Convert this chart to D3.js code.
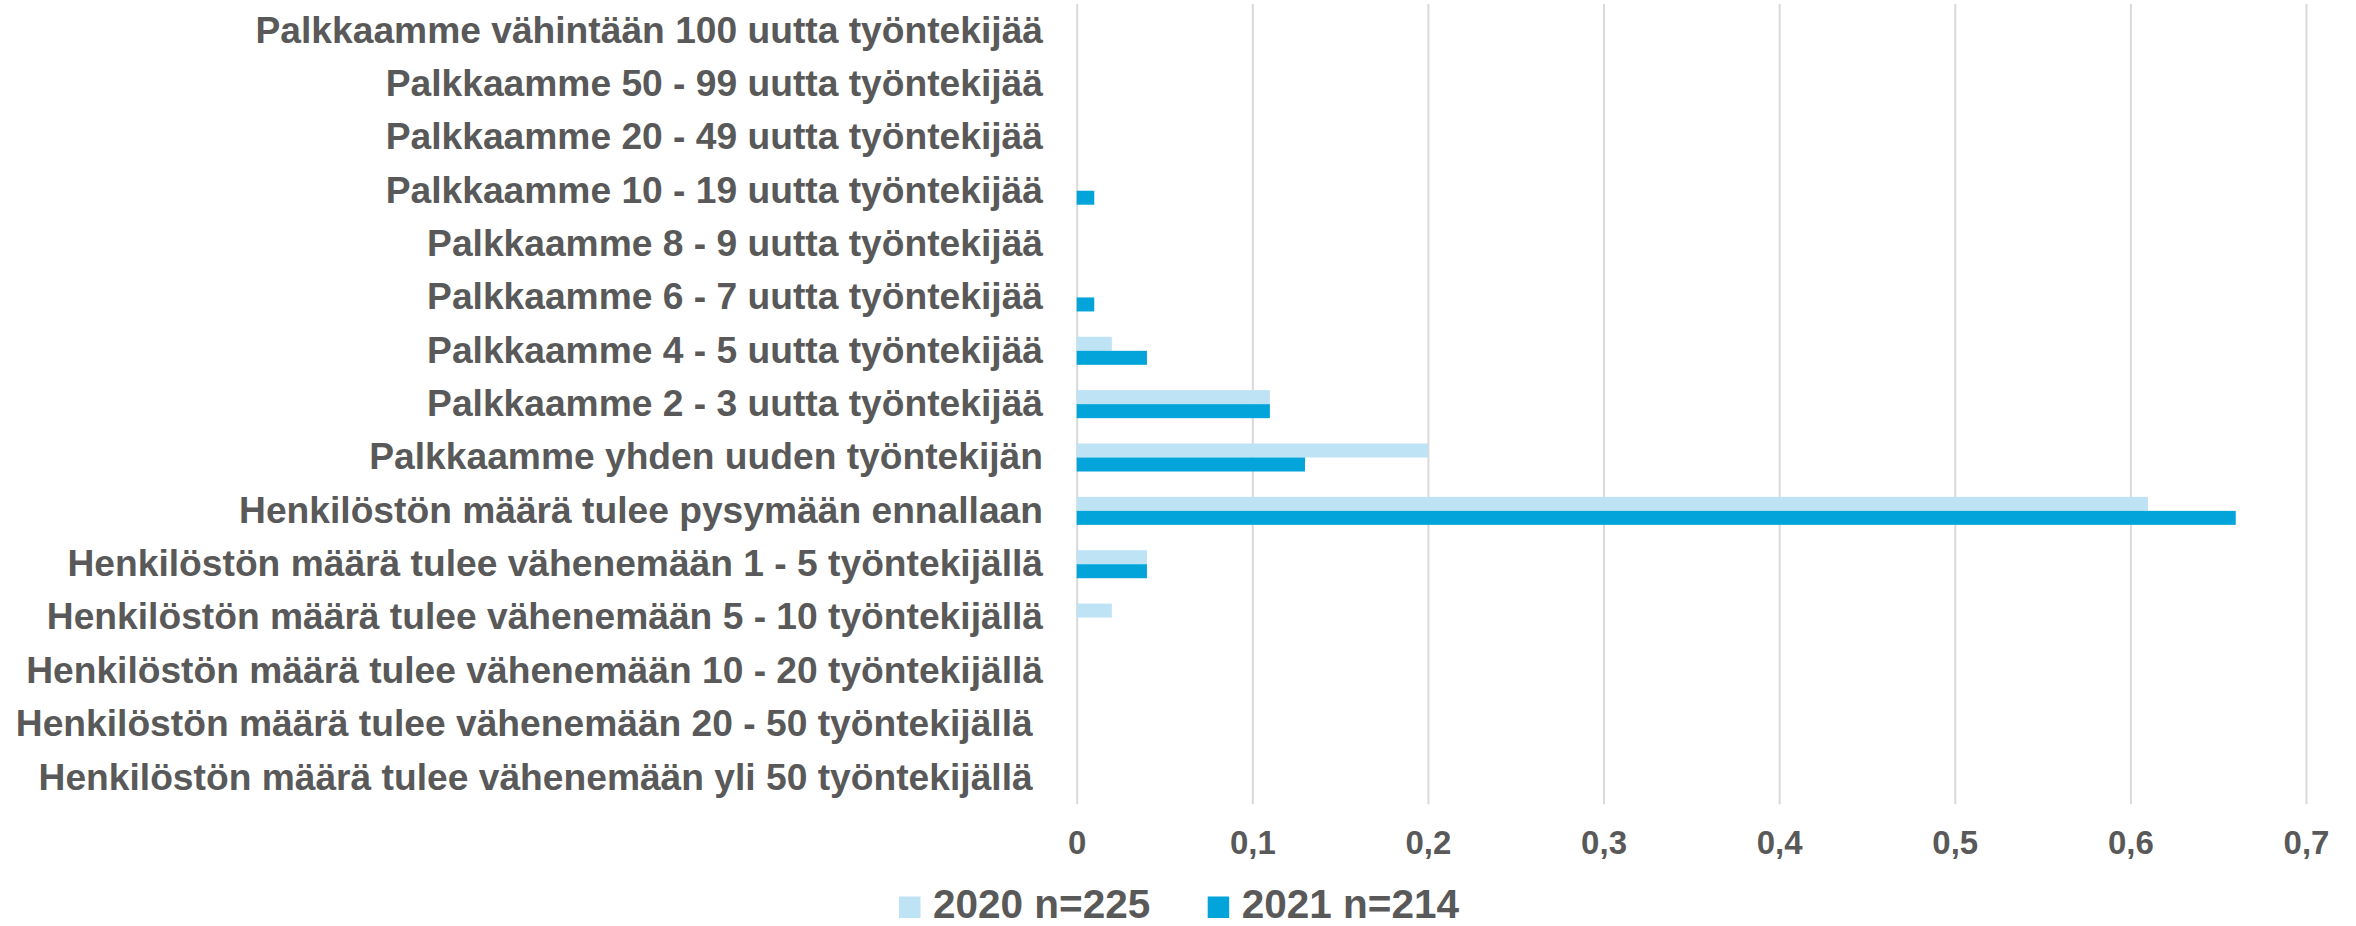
<!DOCTYPE html>
<html>
<head>
<meta charset="utf-8">
<script src="https://cdn.jsdelivr.net/npm/d3@7"></script>
<style>
  html, body { margin: 0; padding: 0; background: #ffffff; }
  svg { display: block; }
  text { font-family: "Liberation Sans", Arial, sans-serif; font-weight: bold; fill: #595959; }
</style>
</head>
<body>
<svg id="chart" width="2356" height="926"></svg>
<script>
// ---- data (top to bottom as displayed) ----
const categories = [
  "Palkkaamme vähintään 100 uutta työntekijää",
  "Palkkaamme 50 - 99 uutta työntekijää",
  "Palkkaamme 20 - 49 uutta työntekijää",
  "Palkkaamme 10 - 19 uutta työntekijää",
  "Palkkaamme 8 - 9 uutta työntekijää",
  "Palkkaamme 6 - 7 uutta työntekijää",
  "Palkkaamme 4 - 5 uutta työntekijää",
  "Palkkaamme 2 - 3 uutta työntekijää",
  "Palkkaamme yhden uuden työntekijän",
  "Henkilöstön määrä tulee pysymään ennallaan",
  "Henkilöstön määrä tulee vähenemään 1 - 5 työntekijällä",
  "Henkilöstön määrä tulee vähenemään 5 - 10 työntekijällä",
  "Henkilöstön määrä tulee vähenemään 10 - 20 työntekijällä",
  "Henkilöstön määrä tulee vähenemään 20 - 50 työntekijällä ",
  "Henkilöstön määrä tulee vähenemään yli 50 työntekijällä "
];
const seriesNames = ["2020 n=225", "2021 n=214"];
const values2020 = [0, 0, 0, 0, 0, 0, 0.02, 0.11, 0.20, 0.61, 0.04, 0.02, 0, 0, 0];
const values2021 = [0, 0, 0, 0.01, 0, 0.01, 0.04, 0.11, 0.13, 0.66, 0.04, 0, 0, 0, 0];
const tickValues = [0, 0.1, 0.2, 0.3, 0.4, 0.5, 0.6, 0.7];
const seriesColors = ["#BDE3F5", "#02A4DA"];

// ---- layout ----
const plotLeft = 1076.7, plotRight = 2306, plotTop = 4, plotBottom = 804.3;
const svg = d3.select("#chart");

const x = d3.scaleLinear().domain([0, 0.7]).range([plotLeft, plotRight]);
const y = d3.scaleBand().domain(categories).range([plotTop, plotBottom])
  .paddingInner(0.475).paddingOuter(0.2375);
const ySub = d3.scaleBand().domain(seriesNames).range([0, y.bandwidth()]);
const color = d3.scaleOrdinal().domain(seriesNames).range(seriesColors);

const locale = d3.formatLocale({decimal: ",", thousands: " ", grouping: [3], currency: ["", "€"]});
const fmt = locale.format(".1~f");

// gridlines + tick labels
const xAxis = d3.axisBottom(x)
  .tickValues(tickValues)
  .tickSize(-(plotBottom - plotTop))
  .tickPadding(26.7)
  .tickFormat(fmt);
const gx = svg.append("g")
  .attr("transform", `translate(0,${plotBottom})`)
  .call(xAxis);
gx.select(".domain").remove();
gx.selectAll(".tick line").attr("stroke", "#D9D9D9").attr("stroke-width", 2);
gx.selectAll(".tick text")
  .attr("fill", "#595959")
  .style("font-size", "33px")
  .style("font-family", "\"Liberation Sans\", Arial, sans-serif")
  .style("font-weight", "bold");

// bars
const series = [
  {name: seriesNames[0], values: values2020},
  {name: seriesNames[1], values: values2021}
];
const gBars = svg.append("g");
series.forEach(s => {
  gBars.selectAll(null)
    .data(categories.map((c, i) => ({cat: c, v: s.values[i]})).filter(d => d.v > 0))
    .enter().append("rect")
    .attr("x", x(0))
    .attr("y", d => y(d.cat) + ySub(s.name))
    .attr("width", d => x(d.v) - x(0))
    .attr("height", ySub.bandwidth())
    .attr("fill", color(s.name));
});

// category labels
svg.append("g").selectAll("text")
  .data(categories).enter().append("text")
  .attr("x", 1043)
  .attr("y", d => y(d) + y.bandwidth() / 2)
  .attr("dy", "0.32em")
  .attr("text-anchor", "end")
  .style("white-space", "pre")
  .style("font-size", "37.2px")
  .text(d => d);

// legend
const legendX = [899, 1207.7];
const legend = svg.append("g");
seriesNames.forEach((n, i) => {
  legend.append("rect")
    .attr("x", legendX[i]).attr("y", 896.5)
    .attr("width", 21.5).attr("height", 21.5)
    .attr("fill", color(n));
  legend.append("text")
    .attr("x", legendX[i] + 34).attr("y", 917.5)
    .style("font-size", "40.5px")
    .text(n);
});
</script>
</body>
</html>
